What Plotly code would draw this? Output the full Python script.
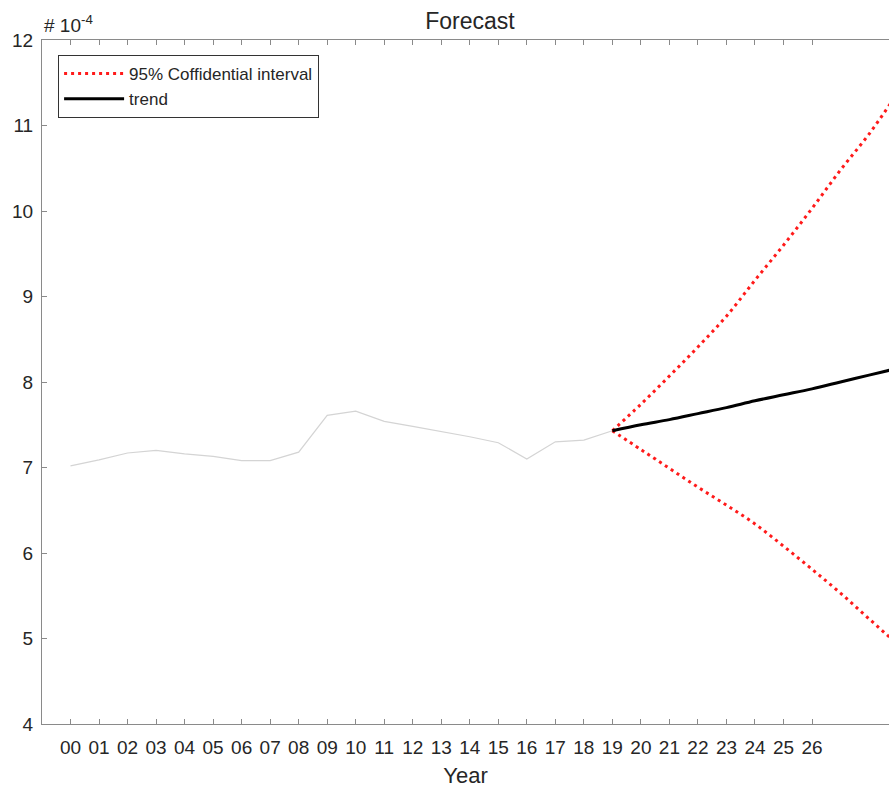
import plotly.graph_objects as go

# Historical series (units of 1e-4), years 2000-2019
hist_years = list(range(0, 20))
hist_values = [7.02, 7.09, 7.17, 7.20, 7.16, 7.13, 7.08, 7.08, 7.18, 7.61,
               7.66, 7.54, 7.48, 7.42, 7.36, 7.29, 7.10, 7.30, 7.32, 7.43]

# Forecast horizon
fc_years = list(range(19, 31))
trend_values = [7.43, 7.50, 7.56, 7.63, 7.70, 7.78, 7.85, 7.92, 8.00, 8.08, 8.16, 8.24]
upper_values = [7.43, 7.74, 8.07, 8.41, 8.77, 9.19, 9.60, 10.03, 10.48, 10.90, 11.38, 11.88]
lower_values = [7.43, 7.21, 6.99, 6.77, 6.56, 6.34, 6.08, 5.81, 5.53, 5.23, 4.93, 4.62]

tick_vals = list(range(0, 27))
tick_text = [f"{v:02d}" for v in tick_vals]

FONT = "Liberation Sans, Arial, sans-serif"
AXIS = "#8a8a8a"
TEXT = "#262626"

fig = go.Figure()

fig.add_trace(go.Scatter(
    x=hist_years, y=hist_values, mode="lines",
    line=dict(color="#d4d4d4", width=1.2), showlegend=False, hoverinfo="skip"))

fig.add_trace(go.Scatter(
    x=fc_years, y=upper_values, mode="lines", name="95% Coffidential interval",
    line=dict(color="#ff1a1a", width=3, dash="3px,4px", shape="spline"),
    legendgroup="ci"))
fig.add_trace(go.Scatter(
    x=fc_years, y=lower_values, mode="lines", name="95% Coffidential interval",
    line=dict(color="#ff1a1a", width=3, dash="3px,4px", shape="spline"),
    legendgroup="ci", showlegend=False))

fig.add_trace(go.Scatter(
    x=fc_years, y=trend_values, mode="lines", name="trend",
    line=dict(color="#000000", width=3, shape="spline")))

fig.update_layout(
    width=889, height=789,
    margin=dict(l=42, r=0, t=40, b=65),
    paper_bgcolor="white", plot_bgcolor="white",
    font=dict(family=FONT, size=18, color=TEXT),
    title=dict(text="Forecast", x=470 / 889, xanchor="center",
               y=1 - 21 / 789, yanchor="middle",
               font=dict(size=23, color=TEXT, family=FONT)),
    showlegend=True,
    legend=dict(x=0.019, y=0.978, xanchor="left", yanchor="top",
                bordercolor="#333333", borderwidth=1, bgcolor="white",
                font=dict(size=17, color=TEXT, family=FONT),
                itemwidth=60, tracegroupgap=0, entrywidth=220),
    xaxis=dict(range=[-1, 28.7], tickmode="array", tickvals=tick_vals,
               ticktext=tick_text, ticks="inside", ticklen=5, tickcolor=AXIS,
               showline=True, linecolor=AXIS, linewidth=1, mirror="ticks",
               showgrid=False, zeroline=False, ticklabelstandoff=6,
               title=dict(text="Year", font=dict(size=22, color=TEXT), standoff=10),
               tickfont=dict(size=19, color=TEXT)),
    yaxis=dict(range=[4, 12], tickmode="array", tickvals=list(range(4, 13)),
               ticks="inside", ticklen=5, tickcolor=AXIS,
               showline=True, linecolor=AXIS, linewidth=1,
               showgrid=False, zeroline=False, ticklabelstandoff=4,
               tickfont=dict(size=19, color=TEXT)),
    annotations=[dict(text="# 10<sup>-4</sup>", xref="paper", yref="paper",
                      x=0, y=1, xanchor="left", yanchor="bottom", yshift=2,
                      showarrow=False, font=dict(size=19, color=TEXT))],
)

fig.write_html("out.html")
